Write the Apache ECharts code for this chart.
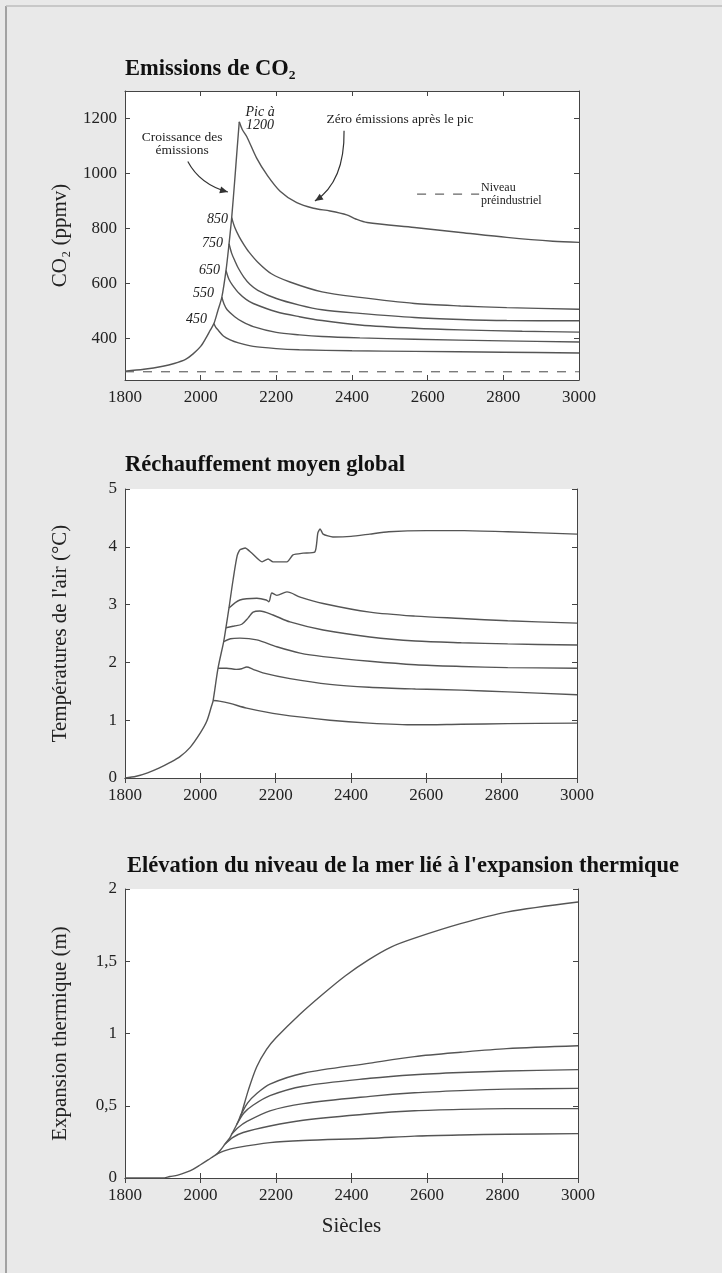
<!DOCTYPE html>
<html><head><meta charset="utf-8">
<script src="https://cdn.jsdelivr.net/npm/echarts@6/dist/echarts.min.js"></script>
<style>html,body{margin:0;padding:0;background:#e9e9e9;}#c{width:722px;height:1273px;}</style>
</head><body><div id="c"></div><script>
// ---------- DATA ----------
const xTicks = [1800, 2000, 2200, 2400, 2600, 2800, 3000];
const co2Ticks = [400, 600, 800, 1000, 1200];
const preindustrial = 280;
const co2Rise = [[1800,282],[1850,289],[1900,300],[1930,310],[1960,325],[1980,345],[2000,372],[2015,405],[2025,430],[2035,455],[2045,500],[2056,551],[2067,648],[2075,745],[2082,840],[2090,975],[2096,1083],[2102,1188]];
const co2Tail450 = [[2035,455],[2040,441],[2047,430],[2060,410],[2078,396],[2100,385],[2139,372],[2200,364],[2261,360],[2400,356],[2565,354],[2800,351],[3000,348]];
const co2Tail550 = [[2056,551],[2062,525],[2070,505],[2090,480],[2110,462],[2139,444],[2200,423],[2261,414],[2321,408],[2421,403],[2565,398],[2800,392],[3000,388]];
const co2Tail650 = [[2067,648],[2075,615],[2084,595],[2102,564],[2120,543],[2139,528],[2200,498],[2261,480],[2321,466],[2421,450],[2565,438],[2687,432],[2850,427],[3000,424]];
const co2Tail750 = [[2075,745],[2082,710],[2090,684],[2100,655],[2114,624],[2130,598],[2151,576],[2200,546],[2261,522],[2321,505],[2421,492],[2565,477],[2687,470],[2809,466],[3000,465]];
const co2Tail850 = [[2082,840],[2090,805],[2102,770],[2115,740],[2126,718],[2151,678],[2187,636],[2236,606],[2321,570],[2421,550],[2565,528],[2687,519],[2809,513],[3000,507]];
const co2Tail1200 = [[2102,1188],[2110,1160],[2122,1134],[2148,1056],[2175,996],[2210,936],[2254,894],[2298,874],[2342,864],[2386,850],[2410,835],[2440,822],[2565,804],[2687,786],[2809,768],[2931,754],[3000,750]];

const tempRise = [[1800,0],[1830,0.03],[1860,0.09],[1890,0.17],[1920,0.27],[1946,0.37],[1973,0.53],[2000,0.78],[2017,0.98],[2030,1.25],[2034,1.34],[2047,1.9],[2062,2.36],[2068,2.6],[2076,2.94],[2087,3.43],[2098,3.85],[2105,3.95]];
const tempTail450 = [[2034,1.34],[2050,1.33],[2079,1.29],[2123,1.21],[2211,1.1],[2344,1.0],[2448,0.95],[2571,0.92],[2693,0.93],[2816,0.94],[3000,0.95]];
const tempTail550 = [[2047,1.9],[2070,1.9],[2095,1.88],[2110,1.89],[2123,1.92],[2140,1.88],[2166,1.82],[2238,1.72],[2344,1.62],[2448,1.57],[2571,1.54],[2693,1.52],[2816,1.49],[3000,1.44]];
const tempTail650 = [[2062,2.36],[2080,2.41],[2105,2.42],[2150,2.39],[2203,2.27],[2265,2.16],[2326,2.10],[2450,2.02],[2571,1.96],[2693,1.93],[2816,1.91],[3000,1.90]];
const tempTail750 = [[2068,2.6],[2090,2.63],[2110,2.66],[2127,2.77],[2140,2.87],[2158,2.89],[2193,2.82],[2238,2.70],[2326,2.56],[2450,2.44],[2571,2.37],[2693,2.34],[2816,2.32],[3000,2.30]];
const tempTail850 = [[2076,2.94],[2105,3.08],[2150,3.11],[2175,3.08],[2182,3.05],[2190,3.2],[2203,3.16],[2230,3.22],[2265,3.13],[2326,3.02],[2450,2.87],[2571,2.8],[2693,2.76],[2816,2.72],[3000,2.68]];
const tempTail1200 = [[2105,3.95],[2119,3.98],[2135,3.9],[2164,3.74],[2180,3.79],[2193,3.74],[2230,3.74],[2246,3.86],[2273,3.89],[2304,3.91],[2312,4.24],[2318,4.31],[2326,4.22],[2352,4.17],[2400,4.18],[2450,4.22],[2500,4.26],[2600,4.28],[2700,4.28],[2816,4.26],[3000,4.22]];

const seaRise = [[1800,0],[1900,0],[1919,0.01],[1940,0.02],[1963,0.04],[1980,0.06],[1999,0.09],[2020,0.125],[2034,0.15],[2043,0.165],[2052,0.19],[2065,0.235],[2078,0.28],[2083,0.305],[2096,0.37],[2105,0.425],[2109,0.45],[2127,0.61],[2149,0.77],[2175,0.89],[2200,0.97],[2262,1.13],[2323,1.27],[2384,1.40],[2445,1.51],[2506,1.60],[2567,1.66],[2689,1.76],[2811,1.84],[3000,1.91]];
const seaTail450 = [[2043,0.165],[2065,0.19],[2096,0.21],[2184,0.245],[2272,0.26],[2449,0.275],[2567,0.29],[2689,0.298],[2811,0.303],[3000,0.307]];
const seaTail550 = [[2065,0.235],[2085,0.28],[2113,0.315],[2184,0.36],[2272,0.40],[2449,0.445],[2567,0.465],[2689,0.475],[2811,0.48],[3000,0.48]];
const seaTail650 = [[2083,0.305],[2100,0.35],[2122,0.39],[2184,0.465],[2272,0.515],[2449,0.565],[2567,0.59],[2689,0.605],[2811,0.615],[3000,0.62]];
const seaTail750 = [[2096,0.37],[2115,0.45],[2140,0.505],[2184,0.57],[2272,0.635],[2449,0.69],[2567,0.715],[2689,0.73],[2811,0.74],[3000,0.75]];
const seaTail850 = [[2105,0.425],[2125,0.52],[2149,0.585],[2184,0.65],[2272,0.725],[2449,0.795],[2567,0.84],[2689,0.87],[2811,0.895],[3000,0.915]];

// annotations (data coordinates of the top chart)
const co2Notes = [
  {text:'Pic à\n1200', at:[2157,1199], italic:true, align:'center', size:14},
  {text:'Zéro émissions après le pic', at:[2527,1195], align:'center', size:13.5},
  {text:'Croissance des\némissions', at:[1951,1109], align:'center', size:13.5},
  {text:'850', at:[2072,835], italic:true, align:'right', size:14},
  {text:'750', at:[2059,745], italic:true, align:'right', size:14},
  {text:'650', at:[2051,648], italic:true, align:'right', size:14},
  {text:'550', at:[2035,566], italic:true, align:'right', size:14},
  {text:'450', at:[2017,472], italic:true, align:'right', size:14},
  {text:'Niveau', at:[2741,947], align:'left', size:12},
  {text:'préindustriel', at:[2741,900], align:'left', size:12}
];
const co2Arrows = [
  {from:[1966,1044], ctrl:[1998,961], to:[2072,933]},
  {from:[2379,1156], ctrl:[2381,972], to:[2302,900]}
];
const legendDash = [[2572,925],[2736,925]];

// ---------- CHART ----------
const FONT = '"Liberation Serif","Times New Roman",serif';
const AX = '#444', LINE = '#555';
const grids = [
  {left:125, top:91, width:454, height:289},
  {left:125, top:489, width:452, height:289},
  {left:125, top:889, width:453, height:289}
];
const yCfg = [
  {min:250, max:1300, customValues:co2Ticks, name:'CO₂ (ppmv)'},
  {min:0, max:5, interval:1, name:"Températures de l'air (°C)"},
  {min:0, max:2, interval:0.5, name:'Expansion thermique (m)'}
];
const titles = ['Emissions de CO₂', 'Réchauffement moyen global', "Elévation du niveau de la mer lié à l'expansion thermique"];
const titleTops = [58, 454, 855];

const xAxes = [], yAxes = [];
grids.forEach((g, i) => {
  const base = {
    type:'value', gridIndex:i, min:1800, max:3000, interval:200,
    axisLine:{show:true, lineStyle:{color:AX, width:1}},
    axisTick:{show:true, inside:true, length:5, lineStyle:{color:AX}},
    splitLine:{show:false}
  };
  xAxes.push(Object.assign({}, base, {position:'bottom',
    axisLabel:{fontFamily:FONT, fontSize:17, color:'#222', margin:9, formatter: v => String(v)},
    name: i === 2 ? 'Siècles' : '', nameLocation:'middle', nameGap:38,
    nameTextStyle:{fontFamily:FONT, fontSize:21, color:'#222'}}));
  xAxes.push(Object.assign({}, base, {position:'top', axisLabel:{show:false}}));
  const yc = yCfg[i];
  const yb = {
    type:'value', gridIndex:i, min:yc.min, max:yc.max,
    axisLine:{show:true, lineStyle:{color:AX, width:1}},
    axisTick:{show:true, inside:true, length:5, lineStyle:{color:AX}},
    splitLine:{show:false}
  };
  if (yc.interval) yb.interval = yc.interval;
  if (yc.customValues) { yb.axisTick.customValues = yc.customValues; }
  const lbl = {fontFamily:FONT, fontSize:17, color:'#222', margin:8,
    formatter: v => String(v).replace('.', ',')};
  if (yc.customValues) lbl.customValues = yc.customValues;
  yAxes.push(Object.assign({}, yb, {position:'left', axisLabel:lbl,
    name:yc.name, nameLocation:'middle', nameRotate:90, nameGap:54,
    nameTextStyle:{fontFamily:FONT, fontSize:21, color:'#222'}}));
  const yr = Object.assign({}, yb, {position:'right', axisLabel:{show:false}});
  yr.axisTick = Object.assign({}, yb.axisTick);
  yAxes.push(yr);
});

function line(data, gi, extra) {
  return Object.assign({
    type:'line', data:data, xAxisIndex:gi*2, yAxisIndex:gi*2,
    showSymbol:false, symbol:'none', smooth:0.3,
    lineStyle:{color:LINE, width:1.4}, silent:true, animation:false, z:3
  }, extra || {});
}

const series = [
  line([[1800,preindustrial],[3000,preindustrial]], 0, {smooth:false, lineStyle:{color:'#666', width:1.2, type:[9,9]}}),
  line(co2Rise, 0), line(co2Tail450, 0), line(co2Tail550, 0), line(co2Tail650, 0),
  line(co2Tail750, 0), line(co2Tail850, 0), line(co2Tail1200, 0),
  line(tempRise, 1), line(tempTail450, 1), line(tempTail550, 1), line(tempTail650, 1),
  line(tempTail750, 1), line(tempTail850, 1), line(tempTail1200, 1, {smooth:0.2}),
  line(seaRise, 2), line(seaTail450, 2), line(seaTail550, 2), line(seaTail650, 2),
  line(seaTail750, 2), line(seaTail850, 2)
];

const chart = echarts.init(document.getElementById('c'), null, {renderer:'canvas'});
chart.setOption({
  backgroundColor:'#e9e9e9',
  animation:false,
  title: titles.map((t, i) => ({text:t, left: i === 2 ? 127 : 125, top:titleTops[i], padding:0,
    textStyle:{fontFamily:FONT, fontWeight:'bold', fontSize:22.5, color:'#111'}})),
  grid: grids.map(g => Object.assign({show:true, backgroundColor:'#fff', borderWidth:0, containLabel:false}, g)),
  xAxis: xAxes, yAxis: yAxes, series: series
});

// annotations via the axes' own conversion
const px = pt => chart.convertToPixel({xAxisIndex:0, yAxisIndex:0}, pt);
const graphics = [
  {type:'line', shape:{x1:6, y1:6, x2:6, y2:1273}, style:{stroke:'#8a8a8a', lineWidth:1.5}, z:10},
  {type:'line', shape:{x1:6, y1:6, x2:722, y2:6}, style:{stroke:'#bdbdbd', lineWidth:1.5}, z:10}
];
co2Notes.forEach(n => {
  const p = px(n.at);
  graphics.push({type:'text', x:p[0], y:p[1], z:20, style:{
    text:n.text, font:(n.italic ? 'italic ' : '') + n.size + 'px ' + FONT,
    fill:'#222', align:n.align, verticalAlign:'middle', lineHeight:n.size * 0.95}});
});
co2Arrows.forEach(a => {
  const f = px(a.from), c = px(a.ctrl), t = px(a.to);
  graphics.push({type:'bezierCurve', z:20, shape:{x1:f[0], y1:f[1], cpx1:c[0], cpy1:c[1], x2:t[0], y2:t[1]},
    style:{stroke:'#333', lineWidth:1.2, fill:null}});
  const dx = t[0] - c[0], dy = t[1] - c[1], L = Math.hypot(dx, dy), ux = dx / L, uy = dy / L;
  const bx = t[0] - ux * 8, by = t[1] - uy * 8;
  graphics.push({type:'polygon', z:21, shape:{points:[[t[0], t[1]], [bx - uy * 3.5, by + ux * 3.5], [bx + uy * 3.5, by - ux * 3.5]]},
    style:{fill:'#333'}});
});
const d0 = px(legendDash[0]), d1 = px(legendDash[1]);
graphics.push({type:'line', z:20, shape:{x1:d0[0], y1:d0[1], x2:d1[0], y2:d1[1]},
  style:{stroke:'#666', lineWidth:1.2, lineDash:[9,9]}});
chart.setOption({graphic: graphics});
</script></body></html>
